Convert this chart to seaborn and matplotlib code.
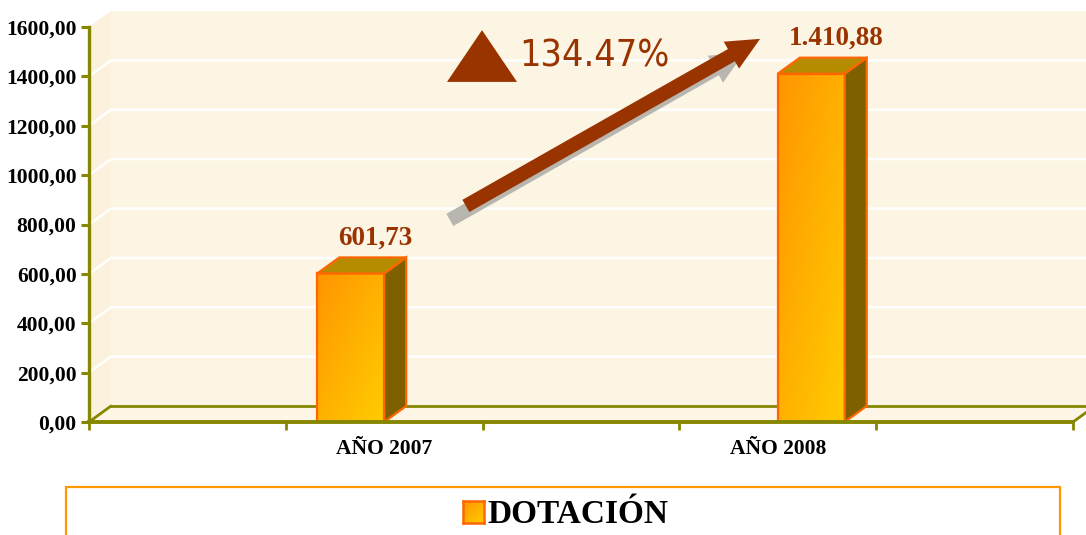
import numpy as np
import pandas as pd
import matplotlib
matplotlib.use("Agg")
import matplotlib.pyplot as plt
import matplotlib.transforms as mtransforms
from matplotlib.patches import Polygon, Rectangle, FancyArrow
from matplotlib.colors import LinearSegmentedColormap
import seaborn as sns

# ---- data ---------------------------------------------------------------
periodos = ["AÑO 2007", "AÑO 2008"]
dotacion = [601.73, 1410.88]
etiquetas_valor = ["601,73", "1.410,88"]
variacion = "134.47%"
serie = "DOTACIÓN"
y_ticks = [0, 200, 400, 600, 800, 1000, 1200, 1400, 1600]
y_tick_labels = [f"{v},00" for v in y_ticks]

# ---- style --------------------------------------------------------------
sns.set_theme(style="white")
plt.rcParams["font.family"] = ["Liberation Serif", "DejaVu Serif"]

OLIVE = "#868600"
CREAM = "#FDF5E3"
CREAM_SIDE = "#FCF1DC"
CREAM_FLOOR = "#FDF6E6"
BROWN = "#993300"
EDGE = "#FF6600"
TOP_FACE = "#B58C00"
SIDE_FACE = "#7F6000"
bar_cmap = LinearSegmentedColormap.from_list("bar", ["#FF9500", "#FFCC00"])

W, H = 1086, 535
fig = plt.figure(figsize=(W / 100, H / 100), dpi=100)
fig.patch.set_facecolor("white")
ax = fig.add_axes([89 / W, (H - 422) / H, 984 / W, 395 / H])
ax.set_facecolor("none")

df = pd.DataFrame({"periodo": periodos, "dotacion": dotacion})
sns.barplot(data=df, x="periodo", y="dotacion", hue="periodo", dodge=True,
            width=0.34, legend=False, ax=ax, palette=["#FF9900", "#FF9900"],
            saturation=1, edgecolor=EDGE, linewidth=1.6, zorder=5)

XMIN, XMAX = -0.75, 1.75
YMAX = 1600
ax.set_xlim(XMIN, XMAX)
ax.set_ylim(0, YMAX)

# depth of the pseudo-3D projection, in data units
ddx = 22 / (ax.bbox.width / (XMAX - XMIN))
ddy = 16 / (ax.bbox.height / YMAX)

# ---- walls and floor ----------------------------------------------------
def poly(pts, **kw):
    p = Polygon(pts, closed=True, clip_on=False, **kw)
    ax.add_patch(p)
    return p

poly([(XMIN + ddx, ddy), (XMAX + ddx, ddy), (XMAX + ddx, YMAX + ddy),
      (XMIN + ddx, YMAX + ddy)], facecolor=CREAM, edgecolor="none", zorder=0)
poly([(XMIN, 0), (XMIN + ddx, ddy), (XMIN + ddx, YMAX + ddy), (XMIN, YMAX)],
     facecolor=CREAM_SIDE, edgecolor="none", zorder=0)
poly([(XMIN, 0), (XMAX, 0), (XMAX + ddx, ddy), (XMIN + ddx, ddy)],
     facecolor=CREAM_FLOOR, edgecolor="none", zorder=0)

for v in y_ticks[1:-1]:
    ax.plot([XMIN, XMIN + ddx, XMAX + ddx], [v, v + ddy, v + ddy],
            color="white", lw=1.8, zorder=1, clip_on=False,
            solid_joinstyle="miter")

ax.plot([XMIN + ddx, XMAX + ddx], [ddy, ddy], color=OLIVE, lw=2, zorder=2,
        clip_on=False)
ax.plot([XMIN, XMIN + ddx], [0, ddy], color=OLIVE, lw=2, zorder=2,
        clip_on=False)
ax.plot([XMAX, XMAX + ddx], [0, ddy], color=OLIVE, lw=2, zorder=2,
        clip_on=False)

# ---- 3D bars ------------------------------------------------------------
gx, gy = np.meshgrid(np.linspace(0, 1, 64), np.linspace(0, 1, 64))
grad = (gx + (1 - gy)) / 2  # orange top-left, yellow bottom-right

bars = [p for p in ax.patches if isinstance(p, Rectangle) and p.get_height() > 0]
bars.sort(key=lambda r: r.get_x())
for rect, label in zip(bars, etiquetas_valor):
    x0, w, h = rect.get_x(), rect.get_width(), rect.get_height()
    rect.set_facecolor("none")
    img = ax.imshow(grad, cmap=bar_cmap, origin="lower", aspect="auto",
                    extent=(x0, x0 + w, 0, h), zorder=4, interpolation="bilinear")
    img.set_clip_path(rect)
    poly([(x0 + w, 0), (x0 + w + ddx, ddy), (x0 + w + ddx, h + ddy), (x0 + w, h)],
         facecolor=SIDE_FACE, edgecolor=EDGE, lw=1.6, zorder=5,
         joinstyle="miter")
    poly([(x0, h), (x0 + w, h), (x0 + w + ddx, h + ddy), (x0 + ddx, h + ddy)],
         facecolor=TOP_FACE, edgecolor=EDGE, lw=1.6, zorder=5,
         joinstyle="miter")
    ax.annotate(label, xy=(x0 + w / 2 + ddx, h + ddy), xytext=(2, 5),
                textcoords="offset points", ha="center", va="bottom",
                color=BROWN, fontsize=19.5, fontweight="bold", zorder=8,
                annotation_clip=False)

ax.set_xlim(XMIN, XMAX)
ax.set_ylim(0, YMAX)

# ---- axes ---------------------------------------------------------------
for side in ("top", "right"):
    ax.spines[side].set_visible(False)
ax.spines["left"].set_color(OLIVE)
ax.spines["left"].set_linewidth(2.4)
ax.spines["bottom"].set_color(OLIVE)
ax.spines["bottom"].set_linewidth(2.8)
ax.spines["left"].set_zorder(6)
ax.spines["bottom"].set_zorder(6)

ax.set_yticks(y_ticks, y_tick_labels)
ax.tick_params(axis="y", direction="out", length=6, width=2.2, color=OLIVE,
               pad=3, labelsize=15.5, left=True)
ax.set_xticks([0, 1], periodos)
ax.set_xticks(np.arange(XMIN, XMAX + 0.01, 0.5), minor=True)
ax.tick_params(axis="x", which="major", length=0, pad=12, labelsize=15.5)
ax.tick_params(axis="x", which="minor", direction="out", length=6, width=2,
               color=OLIVE, bottom=True)
for lab in ax.get_xticklabels() + ax.get_yticklabels():
    lab.set_fontweight("bold")
    lab.set_color("black")
ax.set_xlabel("")
ax.set_ylabel("")
ax.grid(False)

# ---- growth arrow and percentage ----------------------------------------
ident = mtransforms.IdentityTransform()
p0 = ax.transAxes.transform((0.383, 0.547))
p1 = ax.transAxes.transform((0.682, 0.970))
for shift, col, z in (((-16, -14), "#B8B6AE", 6), ((0, 0), BROWN, 7)):
    arr = FancyArrow(p0[0] + shift[0], p0[1] + shift[1], p1[0] - p0[0],
                     p1[1] - p0[1], width=14, head_width=31, head_length=33,
                     length_includes_head=True, transform=ident,
                     facecolor=col, edgecolor="none", zorder=z)
    fig.add_artist(arr)

ax.add_patch(Polygon([(0.3638, 0.861), (0.435, 0.861), (0.3994, 0.992)],
                     closed=True, transform=ax.transAxes, clip_on=False,
                     facecolor=BROWN, edgecolor="none", zorder=7))
ax.text(0.437, 0.899, variacion, transform=ax.transAxes, ha="left",
        va="baseline", color=BROWN, fontsize=27, fontstretch="condensed",
        family=["DejaVu Sans"], zorder=7)

# ---- legend box ---------------------------------------------------------
fig.add_artist(Rectangle((66 / W, -0.05), (1060 - 66) / W, 0.05 + (H - 487) / H,
                         transform=fig.transFigure, facecolor="white",
                         edgecolor="#FF9900", lw=1.6, zorder=1))
lax = fig.add_axes([463 / W, (H - 523) / H, 21 / W, 22 / H], zorder=3)
lax.imshow(grad, cmap=bar_cmap, origin="lower", aspect="auto",
           interpolation="bilinear")
lax.set_xticks([])
lax.set_yticks([])
for s in lax.spines.values():
    s.set_color(EDGE)
    s.set_linewidth(1.8)
fig.text(487 / W, (H - 523) / H, serie, ha="left", va="baseline",
         fontsize=24, fontweight="bold", color="black", zorder=3)

fig.savefig("out.png", dpi=100)
